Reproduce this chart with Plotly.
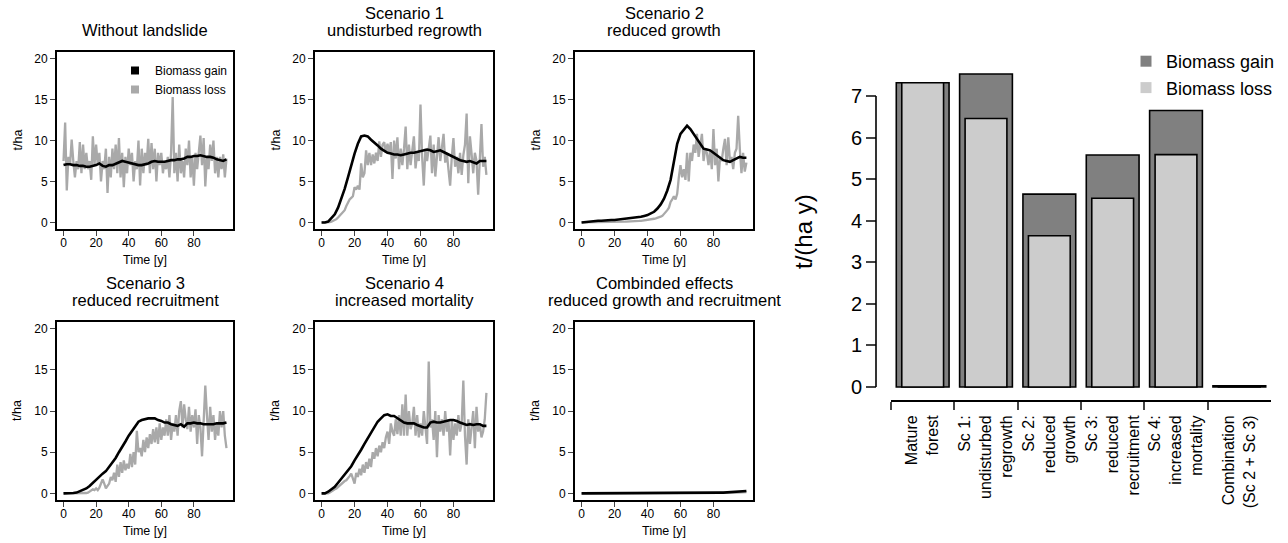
import plotly.graph_objects as go

W, H = 1288, 543
FONT = "Liberation Sans, Arial, sans-serif"

# ---- time series (t/ha), loss read every year, gain every 2 years ----
years = list(range(101))
gain_years = list(range(0, 101, 2))

base_loss = [
    7.5, 12.2, 3.9, 8.0, 7.0, 10.1, 7.5, 5.5, 7.5, 6.5,
    9.8, 6.0, 9.5, 6.5, 8.5, 6.5, 7.5, 5.2, 10.5, 7.0,
    9.5, 7.0, 8.5, 5.0, 7.5, 6.5, 9.0, 3.6, 8.0, 5.5,
    9.0, 6.5, 9.5, 6.0, 10.3, 5.5, 8.5, 4.3, 8.0, 6.0,
    9.0, 7.0, 8.5, 5.0, 7.5, 6.5, 10.0, 4.5, 9.0, 6.0,
    8.5, 7.0, 10.2, 6.0, 9.7, 6.5, 9.0, 5.0, 8.5, 7.0,
    8.5, 6.0, 7.5, 6.5, 8.0, 5.5, 8.5, 15.3, 6.0, 8.5,
    5.0, 9.5, 6.0, 7.5, 5.5, 9.0, 7.0, 10.0, 5.5, 8.0,
    4.5, 8.5, 6.5, 9.0, 10.6, 7.0, 10.3, 4.4, 8.0, 6.5,
    9.5, 7.5, 10.0, 6.0, 8.0, 5.5, 8.0, 6.5, 8.3, 5.5,
    7.8,
]
base_gain = [
    7.0, 7.1, 7.1, 7.0, 7.0, 6.9, 6.9, 6.8, 6.8, 6.9,
    7.0, 7.2, 6.9, 6.8, 7.0, 7.0, 7.2, 7.4, 7.5, 7.4,
    7.3, 7.2, 7.1, 7.0, 7.0, 7.1, 7.2, 7.4, 7.5, 7.4,
    7.4, 7.4, 7.5, 7.6, 7.6, 7.7, 7.7, 7.8, 8.0, 8.0,
    8.1, 8.1, 8.2, 8.1, 8.0, 8.0, 7.9, 7.7, 7.6, 7.5,
    7.7,
]

sc1_loss = [
    0.0, 0.0, 0.0, 0.0, 0.0, 0.05, 0.1, 0.2, 0.3, 0.4,
    0.6, 0.8, 1.0, 1.2, 1.5, 2.0, 2.5, 2.8, 3.0, 3.2,
    4.3, 4.0, 4.5, 4.0, 7.2, 5.5, 6.0, 8.8, 7.0, 8.5,
    7.0, 8.3, 7.2, 8.5, 7.5, 9.9, 8.0, 9.5, 9.8, 8.5,
    9.6, 8.5, 9.8, 5.3, 10.0, 7.8, 10.4, 6.5, 9.0, 7.0,
    9.0, 11.7, 6.5, 9.5, 7.0, 8.5, 10.5, 6.6, 8.5, 7.5,
    14.4, 8.0, 4.5, 9.0, 7.5, 9.0, 10.6, 6.0, 9.5, 5.6,
    8.5, 10.4, 7.5, 9.0, 10.8, 7.3, 8.5, 6.4, 4.5, 8.0,
    10.3, 6.8, 8.0, 6.0, 8.5, 5.8, 8.2, 9.5, 13.3, 4.8,
    10.5, 8.4, 6.0, 8.5, 7.5, 3.4, 8.0, 12.0, 6.8, 8.0,
    5.8,
]
sc1_gain = [
    0.0, 0.0, 0.1, 0.5, 1.0, 1.8, 2.9, 4.1, 5.5, 7.0,
    8.4, 9.6, 10.5, 10.6, 10.5, 10.1, 9.8, 9.4, 9.0, 8.7,
    8.5, 8.4, 8.3, 8.3, 8.2, 8.3, 8.4, 8.5, 8.5, 8.6,
    8.7, 8.8, 8.9, 8.8, 8.6, 8.7, 8.8, 8.6, 8.4, 8.1,
    7.9, 7.8, 7.6, 7.5, 7.4, 7.5, 7.3, 7.2, 7.5, 7.5,
    7.5,
]

sc2_loss = [
    0.0, 0.0, 0.0, 0.0, 0.0, 0.0, 0.0, 0.0, 0.0, 0.0,
    0.01, 0.01, 0.02, 0.02, 0.03, 0.03, 0.04, 0.04, 0.05, 0.05,
    0.06, 0.06, 0.07, 0.07, 0.08, 0.08, 0.09, 0.1, 0.1, 0.11,
    0.12, 0.13, 0.14, 0.15, 0.16, 0.18, 0.2, 0.22, 0.24, 0.26,
    0.3, 0.33, 0.36, 0.4, 0.45, 0.5, 0.55, 0.6, 0.7, 0.8,
    1.0, 1.2, 1.5, 1.8, 2.5, 2.8, 3.2, 2.8, 3.5, 5.5,
    7.0, 5.5, 6.5, 5.2, 8.5, 5.0, 8.5, 7.5, 9.5, 8.5,
    10.8, 8.0, 9.5, 10.8, 7.5, 9.0, 8.5, 7.0, 8.8, 6.5,
    11.4, 7.0, 9.0, 5.0, 8.0, 7.5, 9.0, 10.2, 7.0, 10.4,
    7.5, 8.0, 6.5, 8.5, 9.0, 13.0, 9.0, 6.0, 8.5, 6.2,
    7.3,
]
sc2_gain = [
    0.0, 0.05, 0.1, 0.1, 0.15, 0.2, 0.2, 0.25, 0.25, 0.3,
    0.3, 0.35, 0.4, 0.4, 0.45, 0.5, 0.55, 0.6, 0.7, 0.8,
    0.9, 1.1, 1.3, 1.7, 2.2, 2.9, 3.9, 5.2, 7.3, 9.6,
    10.8, 11.3, 11.8, 11.4, 10.8, 10.1, 9.5, 9.0, 8.9, 8.8,
    8.5, 8.2, 7.9, 7.6, 7.5, 7.4, 7.6, 7.8, 8.0, 7.9,
    7.9,
]

sc3_loss = [
    0.0, 0.0, 0.0, 0.0, 0.0, 0.0, 0.0, 0.0, 0.0, 0.0,
    0.0, 0.0, 0.0, 0.0, 0.05, 0.1, 0.2, 0.3, 0.5, 0.4,
    0.6, 0.4, 0.7, 1.2, 1.7, 1.2, 0.6, 0.9, 1.2, 2.0,
    1.6, 2.5, 1.4, 3.5, 2.0, 3.8, 2.5, 4.0, 2.8, 3.6,
    3.0, 4.8, 3.2, 5.0, 3.5, 7.6, 5.0, 5.5, 4.5, 6.5,
    5.0, 6.8, 5.5, 7.2, 6.0, 7.8, 6.2, 8.0, 6.0, 8.5,
    6.5, 8.0, 7.0, 9.0, 7.0, 9.5, 6.5, 8.5, 7.5, 9.5,
    7.0, 10.0, 11.2, 8.0, 10.8, 9.0, 7.8, 10.5, 7.5, 9.5,
    8.0, 10.2, 6.0, 9.5, 8.0, 4.5, 9.0, 13.1, 9.5, 6.5,
    10.5, 7.5, 9.5, 6.5, 8.5, 7.0, 10.0, 8.0, 10.0, 7.0,
    5.5,
]
sc3_gain = [
    0.0, 0.0, 0.0, 0.05, 0.1, 0.25, 0.4, 0.6, 0.9, 1.3,
    1.7, 2.1, 2.4, 2.7, 3.2, 3.8, 4.3, 5.0, 5.6, 6.3,
    7.0, 7.6, 8.2, 8.7, 8.9, 9.0, 9.1, 9.1, 9.1, 8.9,
    8.8, 8.6, 8.6, 8.4, 8.3, 8.2, 8.4, 8.1, 8.5, 8.5,
    8.6, 8.5, 8.5, 8.4, 8.4, 8.4, 8.4, 8.5, 8.5, 8.5,
    8.6,
]

sc4_loss = [
    0.0, 0.0, 0.0, 0.0, 0.0, 0.1, 0.2, 0.3, 0.5, 0.6,
    0.8, 1.0, 1.2, 1.3, 1.5, 1.6, 1.8, 2.1, 2.4, 1.8,
    1.2, 2.5, 2.0, 3.0, 2.2, 3.5, 2.5, 3.8, 3.0, 4.2,
    3.2, 5.0, 4.2, 5.5, 4.5, 5.8, 5.0, 6.2, 5.5, 6.8,
    7.5, 6.0, 8.5, 7.5, 7.0, 9.0, 7.2, 9.5, 7.0, 10.8,
    7.0, 12.0, 7.0, 10.0, 7.8, 8.5, 10.5, 7.0, 9.5, 6.8,
    8.5, 7.0, 10.0, 8.0, 6.0, 16.0, 8.0, 9.0, 6.5, 10.0,
    4.4, 9.5, 7.5, 9.0, 7.0, 10.0, 7.5, 9.0, 4.6, 9.0,
    6.5, 8.5, 7.0, 9.5, 7.5, 8.5, 13.7, 7.0, 3.5, 9.0,
    6.0, 8.0, 10.0, 5.5, 10.5, 7.5, 8.5, 6.8, 7.5, 9.0,
    12.2,
]
sc4_gain = [
    0.0, 0.0, 0.2, 0.5, 0.8, 1.3, 1.8, 2.3, 2.8, 3.3,
    4.0, 4.6, 5.3, 6.0, 6.7, 7.3, 8.0, 8.7, 9.1, 9.5,
    9.6, 9.4, 9.4, 9.1, 8.8, 8.6, 8.5, 8.5, 8.5, 8.3,
    8.1, 8.0, 8.0, 8.6, 8.7, 8.6, 8.6, 8.7, 8.8, 8.9,
    8.9, 8.8, 8.6, 8.4, 8.3, 8.4, 8.3, 8.4, 8.4, 8.2,
    8.2,
]

comb_loss = [
    0.0, 0.0, 0.0, 0.0, 0.0, 0.0, 0.0, 0.0, 0.0, 0.0,
    0.0, 0.0, 0.0, 0.0, 0.0, 0.0, 0.0, 0.0, 0.0, 0.0,
    0.0, 0.0, 0.0, 0.0, 0.0, 0.0, 0.0, 0.0, 0.0, 0.0,
    0.0, 0.0, 0.0, 0.0, 0.0, 0.0, 0.0, 0.0, 0.0, 0.0,
    0.0, 0.0, 0.0, 0.0, 0.0, 0.0, 0.0, 0.0, 0.0, 0.0,
    0.0, 0.0, 0.0, 0.0, 0.0, 0.0, 0.0, 0.0, 0.0, 0.0,
    0.0, 0.0, 0.0, 0.0, 0.0, 0.0, 0.0, 0.0, 0.0, 0.0,
    0.0, 0.0, 0.0, 0.0, 0.0, 0.0, 0.0, 0.0, 0.0, 0.0,
    0.0, 0.0, 0.0, 0.0, 0.0, 0.01, 0.02, 0.03, 0.04, 0.05,
    0.06, 0.07, 0.08, 0.09, 0.1, 0.11, 0.12, 0.13, 0.14, 0.15,
    0.16,
]
comb_gain = [
    0.0, 0.0, 0.0, 0.0, 0.0, 0.0, 0.0, 0.0, 0.0, 0.0,
    0.0, 0.0, 0.0, 0.0, 0.01, 0.01, 0.01, 0.01, 0.01, 0.01,
    0.01, 0.01, 0.02, 0.02, 0.02, 0.02, 0.02, 0.02, 0.03, 0.03,
    0.03, 0.03, 0.03, 0.04, 0.04, 0.04, 0.05, 0.05, 0.06, 0.06,
    0.07, 0.08, 0.09, 0.1, 0.12, 0.14, 0.17, 0.2, 0.23, 0.27,
    0.3,
]

panel_titles = [
    "Without landslide",
    "Scenario 1\nundisturbed regrowth",
    "Scenario 2\nreduced growth",
    "Scenario 3\nreduced recruitment",
    "Scenario 4\nincreased mortality",
    "Combinded effects\nreduced growth and recruitment",
]
panel_losses = [base_loss, sc1_loss, sc2_loss, sc3_loss, sc4_loss, comb_loss]
panel_gains = [base_gain, sc1_gain, sc2_gain, sc3_gain, sc4_gain, comb_gain]
time_ticks = [0, 20, 40, 60, 80]
tha_ticks = [0, 5, 10, 15, 20]

# ---- summary bar chart, t/(ha y) ----
bar_labels = [
    "Mature<br>forest",
    "Sc 1:<br>undisturbed<br>regrowth",
    "Sc 2:<br>reduced<br>growth",
    "Sc 3:<br>reduced<br>recruitment",
    "Sc 4:<br>increased<br>mortality",
    "Combination<br>(Sc 2 + Sc 3)",
]
bar_gain = [7.32, 7.53, 4.64, 5.58, 6.65, 0.03]
bar_loss = [7.32, 6.46, 3.64, 4.54, 5.59, 0.02]
bar_ticks = [0, 1, 2, 3, 4, 5, 6, 7]

GAIN_LINE = "black"
LOSS_LINE = "#a9a9a9"
GAIN_BAR = "#808080"
LOSS_BAR = "#cccccc"


def fx(px):
    return px / W


def fy(py):
    return 1 - py / H


# panel boxes in pixels (left, right) / (top, bottom)
cols = [(57, 233), (315, 493), (575, 753)]
rows = [(52, 229), (322, 500)]

fig = go.Figure()
layout = {}
annotations = []

for i in range(6):
    n = i + 1
    left, right = cols[i % 3]
    top, bottom = rows[i // 3]
    xa, ya = f"x{n}", f"y{n}"

    fig.add_trace(go.Scatter(
        x=years, y=panel_losses[i], mode="lines",
        line=dict(color=LOSS_LINE, width=2.3),
        xaxis=xa, yaxis=ya, showlegend=False, hoverinfo="skip",
    ))
    fig.add_trace(go.Scatter(
        x=gain_years, y=panel_gains[i], mode="lines",
        line=dict(color=GAIN_LINE, width=2.6),
        xaxis=xa, yaxis=ya, showlegend=False, hoverinfo="skip",
    ))

    layout[f"xaxis{n}"] = dict(
        domain=[fx(left), fx(right)], anchor=ya, range=[-4, 104],
        tickvals=time_ticks, ticks="outside", ticklen=5, tickwidth=1.3,
        ticklabelstandoff=-3,
        showline=True, mirror=True, linecolor="black", linewidth=2,
        showgrid=False, zeroline=False, tickfont=dict(size=12),
    )
    layout[f"yaxis{n}"] = dict(
        domain=[fy(bottom), fy(top)], anchor=xa, range=[-0.8, 20.8],
        tickvals=tha_ticks, ticks="outside", ticklen=5, tickwidth=1.3,
        showline=True, mirror=True, linecolor="black", linewidth=2,
        showgrid=False, zeroline=False, tickfont=dict(size=12),
    )

    # title lines, last line sits just above the box
    lines = panel_titles[i].split("\n")
    for k, line in enumerate(reversed(lines)):
        annotations.append(dict(
            text=line, xref="paper", yref="paper",
            x=fx((left + right) / 2), y=fy(top - 11 - 17 * k),
            xanchor="center", yanchor="bottom", showarrow=False,
            font=dict(size=16.5),
        ))
    annotations.append(dict(
        text="t/ha", xref="paper", yref="paper", textangle=-90,
        x=fx(left - 40), y=fy((top + bottom) / 2),
        xanchor="center", yanchor="middle", showarrow=False,
        font=dict(size=12.5),
    ))
    annotations.append(dict(
        text="Time [y]", xref="paper", yref="paper",
        x=fx((left + right) / 2), y=fy(bottom + 31),
        xanchor="center", yanchor="middle", showarrow=False,
        font=dict(size=12.5),
    ))

# legend entries for the first panel
fig.add_trace(go.Scatter(x=[None], y=[None], mode="markers", name="Biomass gain",
                         marker=dict(symbol="square", size=8, color=GAIN_LINE),
                         xaxis="x1", yaxis="y1", legend="legend"))
fig.add_trace(go.Scatter(x=[None], y=[None], mode="markers", name="Biomass loss",
                         marker=dict(symbol="square", size=8, color=LOSS_LINE),
                         xaxis="x1", yaxis="y1", legend="legend"))

# bar chart
fig.add_trace(go.Bar(
    x=bar_labels, y=bar_gain, width=1 / 1.2,
    marker=dict(color=GAIN_BAR, line=dict(color="black", width=1.6)),
    xaxis="x7", yaxis="y7", showlegend=False, hoverinfo="skip",
))
fig.add_trace(go.Bar(
    x=bar_labels, y=bar_loss, width=0.66,
    marker=dict(color=LOSS_BAR, line=dict(color="black", width=1.6)),
    xaxis="x7", yaxis="y7", showlegend=False, hoverinfo="skip",
))
fig.add_trace(go.Scatter(x=[None], y=[None], mode="markers", name="Biomass gain",
                         marker=dict(symbol="square", size=11, color=GAIN_BAR),
                         xaxis="x7", yaxis="y7", legend="legend2"))
fig.add_trace(go.Scatter(x=[None], y=[None], mode="markers", name="Biomass loss",
                         marker=dict(symbol="square", size=11, color=LOSS_BAR),
                         xaxis="x7", yaxis="y7", legend="legend2"))

layout["xaxis7"] = dict(
    domain=[fx(891), fx(1271)], anchor="y7", type="category",
    range=[-0.5, 5.5], tickson="boundaries", ticks="outside", ticklen=8,
    tickwidth=1.5, showline=True, linecolor="black", linewidth=2,
    ticklabelstandoff=7,
    tickangle=-90, tickfont=dict(size=16), showgrid=False, zeroline=False,
)
layout["yaxis7"] = dict(
    domain=[fy(400), fy(61.5)], anchor="free", position=fx(876),
    range=[-0.313, 7.83], tickvals=bar_ticks, ticks="outside", ticklen=10,
    tickwidth=1.5, showline=False, showgrid=False, zeroline=False,
    tickfont=dict(size=20),
)
annotations.append(dict(
    text="t/(ha y)", xref="paper", yref="paper", textangle=-90,
    x=fx(803), y=fy(232), xanchor="center", yanchor="middle",
    showarrow=False, font=dict(size=24),
))

fig.update_layout(
    **layout,
    width=W, height=H,
    margin=dict(l=0, r=0, t=0, b=0),
    paper_bgcolor="white", plot_bgcolor="white",
    font=dict(family=FONT, color="black"),
    barmode="overlay",
    annotations=annotations,
    shapes=[dict(type="line", xref="paper", yref="y7",
                 x0=fx(876), x1=fx(876), y0=0, y1=7,
                 line=dict(color="black", width=1.6))],
    legend=dict(x=fx(115), y=fy(56), xanchor="left", yanchor="top",
                bgcolor="rgba(0,0,0,0)", font=dict(size=12),
                tracegroupgap=0, itemwidth=30),
    legend2=dict(x=fx(1126), y=fy(43), xanchor="left", yanchor="top",
                 bgcolor="rgba(0,0,0,0)", font=dict(size=18),
                 tracegroupgap=0, itemwidth=30),
)

# the page body would otherwise add an 8px margin around the figure
fig.write_html(
    "out.html",
    config={"displayModeBar": False},
    post_script="document.body.style.margin='0';document.body.style.overflow='hidden';",
)
